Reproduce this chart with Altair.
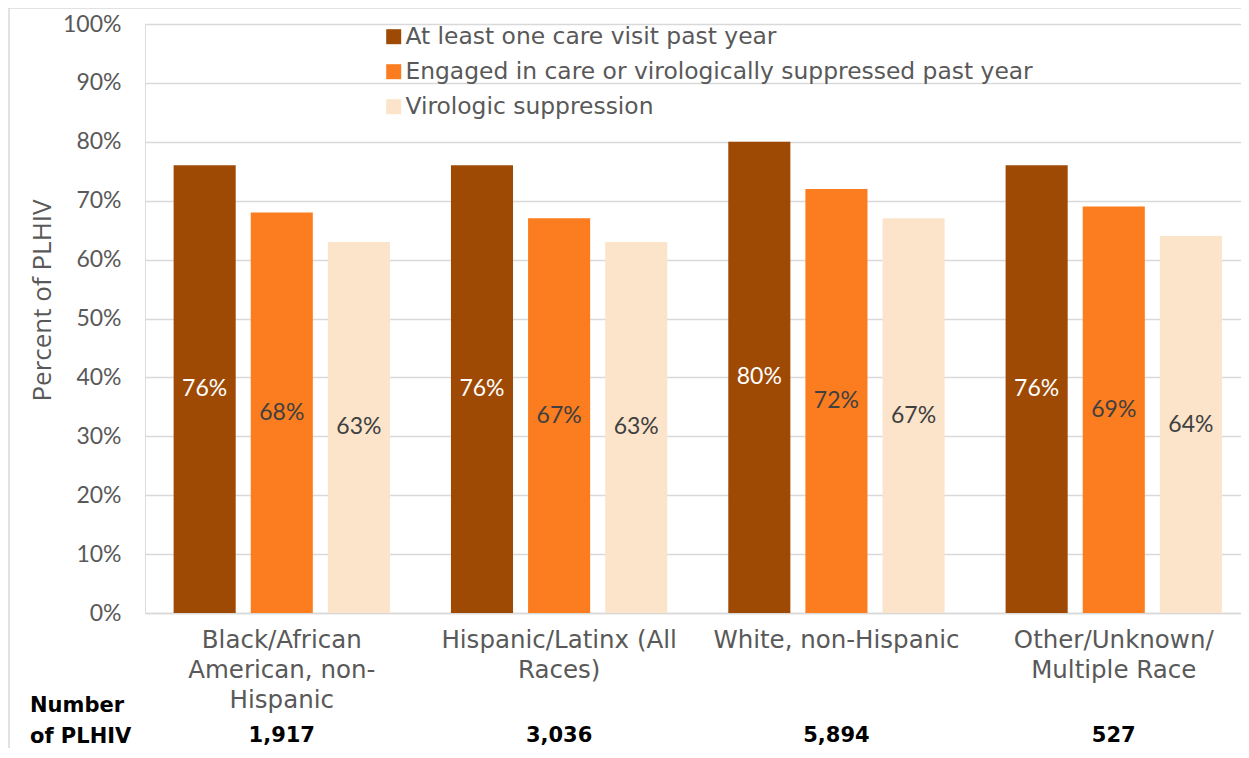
import altair as alt
import pandas as pd

categories = ["Black/African American, non-Hispanic", "Hispanic/Latinx (All Races)",
              "White, non-Hispanic", "Other/Unknown/Multiple Race"]
cat_labels = ["Black/African\nAmerican, non-\nHispanic", "Hispanic/Latinx (All\nRaces)",
              "White, non-Hispanic", "Other/Unknown/\nMultiple Race"]
series = ["At least one care visit past year",
          "Engaged in care or virologically suppressed past year",
          "Virologic suppression"]
visit = [76, 76, 80, 76]
engaged = [68, 67, 72, 69]
suppressed = [63, 63, 67, 64]
counts = ["1,917", "3,036", "5,894", "527"]
colors = ["#9E4A05", "#FB7D1F", "#FCE4CA"]

rows = []
for s, vals in zip(series, [visit, engaged, suppressed]):
    for c, v in zip(categories, vals):
        rows.append({"category": c, "series": s, "value": v})
df = pd.DataFrame(rows)
cat_df = pd.DataFrame({"category": categories, "label": cat_labels, "count": counts})

W, H = 1096, 589
xscale = alt.Scale(domain=categories, paddingInner=0.22, paddingOuter=0.086, align=0.6)
xoff = alt.XOffset("series:N", sort=series, scale=alt.Scale(domain=series, paddingInner=0.195))
x = alt.X("category:N", scale=xscale, sort=categories,
          axis=alt.Axis(labels=False, ticks=False, title=None, domainColor="#d9d9d9",
                        domainWidth=1.5, grid=False))

bars = alt.Chart(df).mark_bar().encode(
    x=x,
    xOffset=xoff,
    y=alt.Y("value:Q", scale=alt.Scale(domain=[0, 100]),
            axis=alt.Axis(values=list(range(0, 101, 10)), labelExpr="datum.value + '%'",
                          ticks=False, domain=False, gridColor="#d9d9d9", gridWidth=1.5,
                          labelFont="Lato", labelFontSize=23, labelColor="#595959",
                          labelPadding=24, title="Percent of PLHIV", titleFont="Open Sans",
                          titleFontSize=26, titleFontWeight="normal", titleColor="#595959",
                          titleAngle=-90, titleX=-103, titleY=276, titleBaseline="middle",
                          titleAlign="center")),
    color=alt.Color("series:N", sort=series, scale=alt.Scale(domain=series, range=colors),
                    legend=alt.Legend(title=None, orient="none", legendX=237, legendY=1,
                                      symbolType="square", symbolSize=225, symbolStrokeWidth=0,
                                      labelFont="DejaVu Sans", labelFontSize=23.4,
                                      labelColor="#595959", rowPadding=10, labelLimit=900,
                                      labelOffset=0)),
)

labels = alt.Chart(df).transform_calculate(
    mid="datum.value / 2", lbl="datum.value + '%'"
).mark_text(font="Lato", fontSize=23, baseline="middle").encode(
    x=alt.X("category:N", scale=xscale, sort=categories),
    xOffset=xoff,
    y=alt.Y("mid:Q"),
    text=alt.Text("lbl:N"),
    color=alt.condition(alt.datum.series == series[0], alt.value("white"), alt.value("#404040")),
)

cat_text = alt.Chart(cat_df).mark_text(
    font="DejaVu Sans", fontSize=24.5, color="#595959", baseline="alphabetic",
    lineBreak="\n", lineHeight=30
).encode(x=alt.X("category:N", scale=xscale, sort=categories), y=alt.value(624), text="label:N")

count_text = alt.Chart(cat_df).mark_text(
    font="DejaVu Sans", fontSize=21, fontWeight="bold", color="black", baseline="alphabetic"
).encode(x=alt.X("category:N", scale=xscale, sort=categories), y=alt.value(718), text="count:N")

num_label = alt.Chart(pd.DataFrame({"t": ["Number\nof PLHIV"]})).mark_text(
    font="DejaVu Sans", fontSize=21, fontWeight="bold", color="black", baseline="alphabetic",
    align="left", lineBreak="\n", lineHeight=31
).encode(x=alt.value(-115), y=alt.value(688), text="t:N")

border = alt.Chart(pd.DataFrame({"a": [0]})).mark_rect(
    fillOpacity=0, stroke="#d9d9d9", strokeWidth=1.5
).encode(x=alt.value(-136), x2=alt.value(1120), y=alt.value(-16), y2=alt.value(800))

chart = alt.layer(border, bars, labels, cat_text, count_text, num_label).properties(
    width=W, height=H,
    autosize=alt.AutoSizeParams(type="none"),
    padding={"left": 137, "top": 16, "right": 0, "bottom": 135},
).configure_view(stroke=None).configure(background="white")

chart.save("out.html", embed_options={"renderer": "svg", "actions": False})
